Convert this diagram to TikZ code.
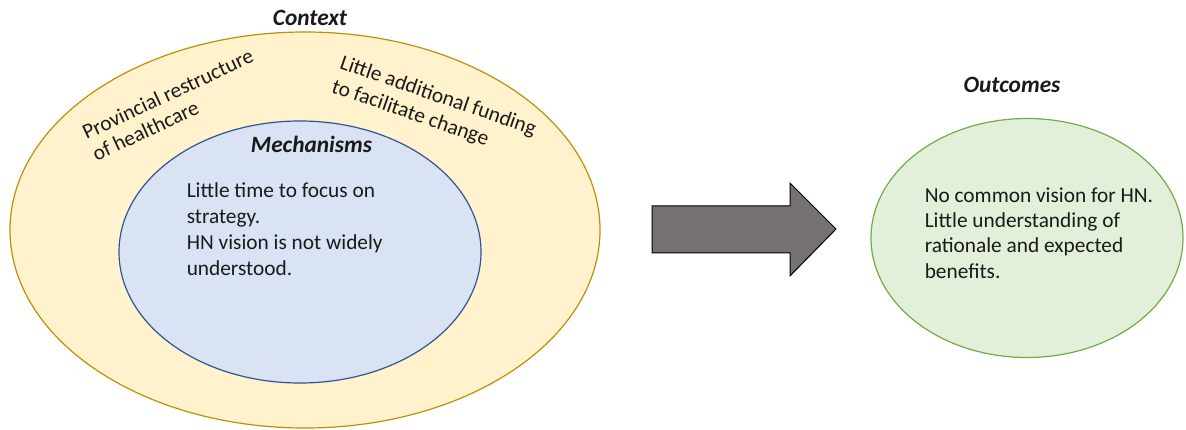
\documentclass[tikz,border=0pt]{standalone}
\usepackage{fontspec}
\setmainfont{Carlito}
\usetikzlibrary{shapes.geometric}
\definecolor{ctxfill}{HTML}{FFF2CC}
\definecolor{ctxline}{HTML}{BF9000}
\definecolor{mechfill}{HTML}{DAE3F3}
\definecolor{mechline}{HTML}{2F5597}
\definecolor{outcfill}{HTML}{E2F0D9}
\definecolor{outcline}{HTML}{70AD47}
\definecolor{arrfill}{HTML}{767171}
\definecolor{txt}{HTML}{1A1A1A}
\begin{document}
\begin{tikzpicture}[x=0.75pt,y=0.75pt,
  blob/.style={ellipse, draw, line width=0.9pt, inner sep=0pt},
  title/.style={font=\fontsize{17.5}{21}\selectfont\bfseries\itshape, text=txt, inner sep=0pt, anchor=base},
  body/.style={font=\fontsize{16}{19.5}\selectfont, text=txt, align=left, inner sep=0pt, anchor=north west}]
\useasboundingbox (0,0) rectangle (1186,429);
% ellipses
\node[blob, fill=ctxfill, draw=ctxline, minimum width=442.5pt, minimum height=297pt] (ctx) at (305,199) {};
\node[blob, fill=mechfill, draw=mechline, minimum width=271.5pt, minimum height=196.5pt] (mech) at (300,177) {};
\node[blob, fill=outcfill, draw=outcline, minimum width=234pt, minimum height=179.25pt] (outc) at (1027,191) {};
% titles
\node[title] (ctxt) at (310,403) {Context};
\node[title] (mecht) at (311.5,276) {Mechanisms};
\node[title] (outct) at (1012,336) {Outcomes};
% context texts
\node[body, rotate=25, font=\fontsize{16}{17.8}\selectfont] (prov) at (80,302.6) {Provincial restructure\\of healthcare};
\node[body, rotate=-19, font=\fontsize{16}{18.8}\selectfont] (fund) at (343.5,374.9) {Little additional funding\\to facilitate change};
% mechanism text
\node[body] (mechb) at (186.5,246.7) {Little time to focus on\\strategy.\\HN vision is not widely\\understood.};
% outcome text
\node[body, font=\fontsize{16}{19}\selectfont] (outcb) at (924.5,241.7) {No common vision for HN.\\Little understanding of\\rationale and expected\\benefits.};
% block arrow
\draw[fill=arrfill, draw=black, line width=0.75pt, line join=miter]
  (652,223) -- (790,223) -- (790,246) -- (836,200) -- (790,153) -- (790,176) -- (652,176) -- cycle;
\end{tikzpicture}
\end{document}
